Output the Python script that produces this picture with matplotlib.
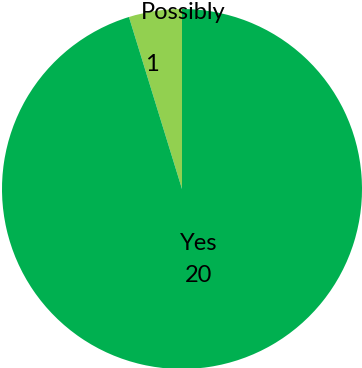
import matplotlib
matplotlib.use("Agg")
import matplotlib.pyplot as plt

categories = ["Possibly", "Yes"]
counts = [1, 20]
colors = ["#92D050", "#00B050"]

plt.rcParams['font.family'] = ['Lato', 'DejaVu Sans']

fig = plt.figure(figsize=(3.62, 3.68), dpi=100)
ax = fig.add_axes([2 / 362, -1 / 368, 360 / 362, 360 / 368])

ax.pie(counts, colors=colors, startangle=90, counterclock=True,
       radius=1, wedgeprops=dict(linewidth=0))
ax.set_xlim(-1, 1)
ax.set_ylim(-1, 1)
ax.set_aspect('auto')
ax.axis('off')

# data labels
fs = 17
ax.text(0.006, 0.983, categories[0], ha='center', va='center', fontsize=fs)
ax.text(-0.167, 0.689, str(counts[0]), ha='center', va='center', fontsize=fs)
ax.text(0.094, -0.30, categories[1], ha='center', va='center', fontsize=fs)
ax.text(0.094, -0.478, str(counts[1]), ha='center', va='center', fontsize=fs)

fig.savefig("out.png", dpi=100)
